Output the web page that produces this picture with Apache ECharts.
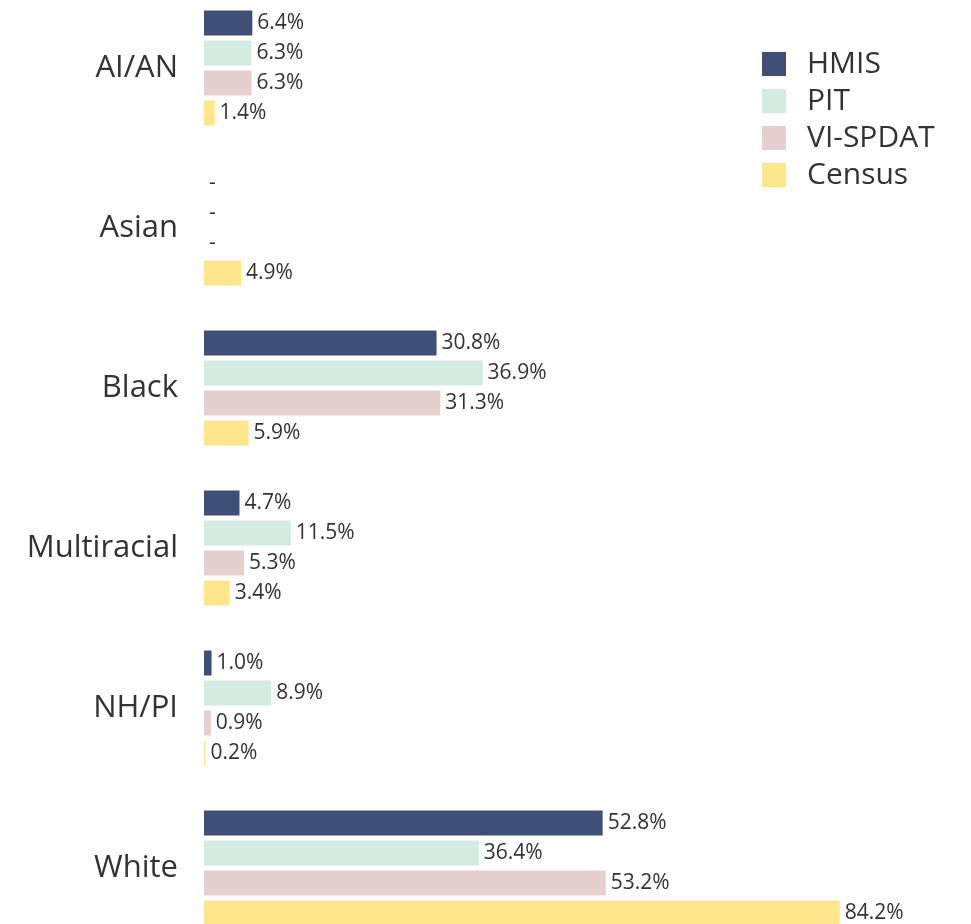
<!DOCTYPE html>
<html>
<head>
<meta charset="utf-8">
<script src="https://cdn.jsdelivr.net/npm/echarts@6/dist/echarts.min.js"></script>
<style>
html, body { margin: 0; padding: 0; background: #ffffff; }
#chart { width: 971px; height: 924px; }
</style>
</head>
<body>
<div id="chart"></div>
<script>
var categories = ['AI/AN', 'Asian', 'Black', 'Multiracial', 'NH/PI', 'White'];
var seriesNames = ['HMIS', 'PIT', 'VI-SPDAT', 'Census'];
// null = no value reported (shown as "-")
var hmis = [6.4, null, 30.8, 4.7, 1.0, 52.8];
var pit = [6.3, null, 36.9, 11.5, 8.9, 36.4];
var vispdat = [6.3, null, 31.3, 5.3, 0.9, 53.2];
var census = [1.4, 4.9, 5.9, 3.4, 0.2, 84.2];
var colors = ['#3f5077', '#d3ebe1', '#e5cfcf', '#fee68d'];

function toData(arr) {
	return arr.map(function (v) {
		return v === null ? { value: 0, missing: true } : { value: v };
	});
}

var allValues = [hmis, pit, vispdat, census];
var fontFam = '"Open Sans", sans-serif';

var series = seriesNames.map(function (name, i) {
	return {
		name: name,
		type: 'bar',
		barWidth: 25,
		barGap: '20%',
		itemStyle: { color: colors[i] },
		label: {
			show: true,
			position: 'right',
			distance: 5,
			color: '#333333',
			fontFamily: fontFam,
			fontSize: 21,
			formatter: function (p) {
				return p.data.missing ? '-' : p.value.toFixed(1) + '%';
			}
		},
		data: toData(allValues[i])
	};
});

var myChart = echarts.init(document.getElementById('chart'));
var option = {
	animation: false,
	legend: {
		orient: 'vertical',
		left: 757,
		top: 44,
		itemWidth: 24,
		itemHeight: 24,
		itemGap: 7,
		icon: 'rect',
		textStyle: {
			fontFamily: fontFam,
			fontSize: 30,
			color: '#333333',
			padding: [0, 0, 0, 16]
		},
		data: seriesNames
	},
	grid: {
		left: 204,
		right: 12,
		top: -12,
		bottom: -24,
		containLabel: false,
		outerBoundsMode: 'none'
	},
	xAxis: {
		type: 'value',
		min: 0,
		max: 100,
		show: false
	},
	yAxis: {
		type: 'category',
		inverse: true,
		data: categories,
		axisLine: { show: false },
		axisTick: { show: false },
		axisLabel: {
			margin: 26,
			fontFamily: fontFam,
			fontSize: 31,
			color: '#333333'
		}
	},
	series: series
};
myChart.setOption(option);
</script>
</body>
</html>
